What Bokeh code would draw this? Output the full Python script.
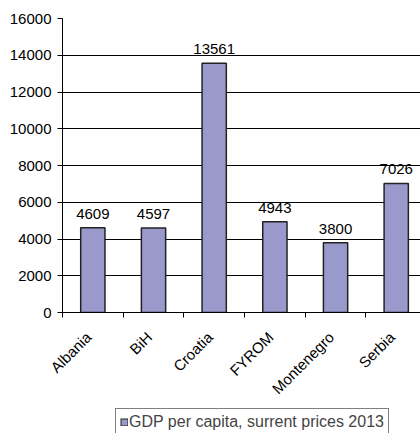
import math
from bokeh.plotting import figure
from bokeh.layouts import column
from bokeh.models import ColumnDataSource, Range1d, FixedTicker, Legend, LegendItem
from bokeh.core.properties import value
from bokeh.embed import file_html
from bokeh.resources import INLINE

countries = ["Albania", "BiH", "Croatia", "FYROM", "Montenegro", "Serbia"]
gdp = [4609, 4597, 13561, 4943, 3800, 7026]
y_ticks = [0, 2000, 4000, 6000, 8000, 10000, 12000, 14000, 16000]
series_name = "GDP per capita, surrent prices 2013"

xs = [i + 0.5 for i in range(len(countries))]
label_pos = [x - 0.07 for x in xs]
src = ColumnDataSource(dict(x=xs, top=gdp, label=[str(v) for v in gdp]))

FONT = "Liberation Sans"
FILL = "#9999CC"
EDGE = "#222222"

p = figure(width=420, height=406, output_backend="svg", toolbar_location=None,
           x_range=Range1d(0, 5.9), y_range=Range1d(0, 16000),
           min_border_left=62, min_border_right=0, min_border_top=18, min_border_bottom=92)
p.outline_line_color = None
p.background_fill_color = "white"

bars = p.vbar(x="x", top="top", width=0.4, source=src, fill_color=FILL,
              line_color=EDGE, line_width=1.5)
p.text(x="x", y="top", text="label", source=src, text_align="center", text_baseline="bottom",
       y_offset=-9, text_font=value(FONT), text_font_size="15px", text_color="black")

# y axis
p.yaxis.ticker = FixedTicker(ticks=y_ticks)
p.yaxis.major_label_text_font = FONT
p.yaxis.major_label_text_font_size = "15px"
p.yaxis.major_label_text_color = "black"
p.yaxis.axis_line_color = "black"
p.yaxis.major_tick_line_color = "black"
p.yaxis.major_tick_out = 5
p.yaxis.major_tick_in = 0
p.yaxis.minor_tick_line_color = None
p.yaxis.major_label_standoff = 6

# x axis
p.xaxis.ticker = FixedTicker(ticks=label_pos, minor_ticks=list(range(len(countries) + 1)))
p.xaxis.major_label_overrides = {x: c for x, c in zip(label_pos, countries)}
p.xaxis.major_label_orientation = math.pi / 4
p.xaxis.major_label_text_font = FONT
p.xaxis.major_label_text_font_size = "15px"
p.xaxis.major_label_text_color = "black"
p.xaxis.axis_line_color = "black"
p.xaxis.major_tick_line_color = None
p.xaxis.minor_tick_line_color = "black"
p.xaxis.minor_tick_out = 5
p.xaxis.minor_tick_in = 0
p.xaxis.major_label_standoff = 16

p.xgrid.grid_line_color = None
p.ygrid.grid_line_color = "black"
p.ygrid.grid_line_width = 1

# legend strip (swatch renderers hidden; only the legend entry is shown)
p2 = figure(width=420, height=27, output_backend="svg", toolbar_location=None,
            x_range=Range1d(0, 5.9), y_range=Range1d(0, 16000),
            min_border_left=0, min_border_right=0, min_border_top=0, min_border_bottom=0)
p2.axis.visible = False
p2.grid.visible = False
p2.outline_line_color = None
sw_edge = p2.line(x="x", y="top", source=src, line_color=EDGE, line_width=8,
                  line_cap="butt", visible=False)
sw_fill = p2.line(x="x", y="top", source=src, line_color=FILL, line_width=6,
                  line_cap="butt", line_dash="6 30", line_dash_offset=-1, visible=False)
legend = Legend(items=[LegendItem(label=series_name, renderers=[sw_edge, sw_fill])],
                location=(53, -3), orientation="horizontal",
                label_text_font=FONT, label_text_font_size="16px",
                border_line_color="black", border_line_width=1,
                inactive_fill_alpha=0.0,
                glyph_width=8, glyph_height=8, padding=4, margin=0,
                label_standoff=1, spacing=0)
p2.add_layout(legend, "center")

layout = column(p, p2, spacing=0)
open("out.html", "w").write(file_html(layout, INLINE))
